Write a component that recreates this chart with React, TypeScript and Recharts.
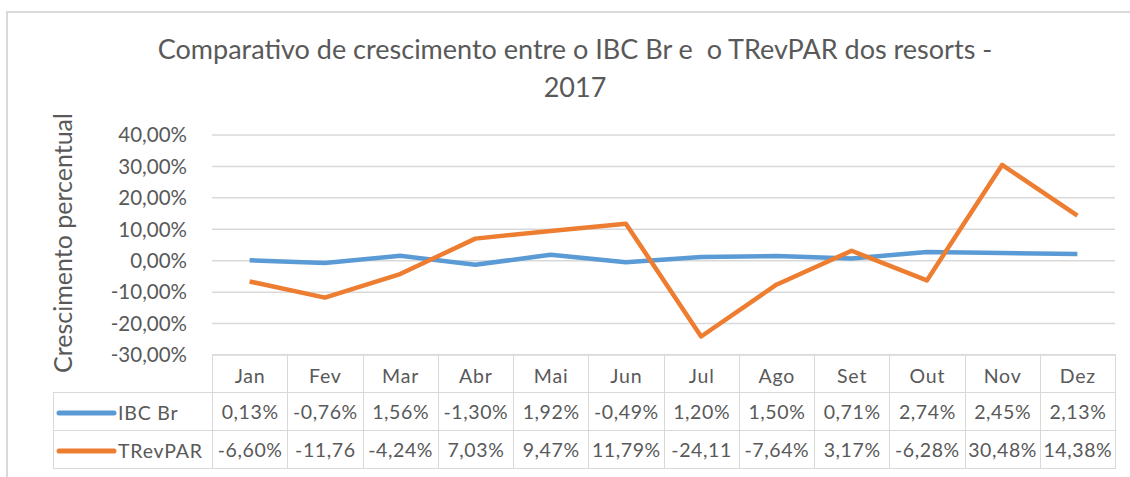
import { LineChart, Line, XAxis, YAxis, CartesianGrid } from "recharts";

const MONTHS = ["Jan", "Fev", "Mar", "Abr", "Mai", "Jun", "Jul", "Ago", "Set", "Out", "Nov", "Dez"];
const IBC_BR = [0.13, -0.76, 1.56, -1.3, 1.92, -0.49, 1.2, 1.5, 0.71, 2.74, 2.45, 2.13];
const TREVPAR = [-6.6, -11.76, -4.24, 7.03, 9.47, 11.79, -24.11, -7.64, 3.17, -6.28, 30.48, 14.38];
const Y_TICKS = [-30, -20, -10, 0, 10, 20, 30, 40];

const SERIES = [
  { key: "ibc", name: "IBC Br", values: IBC_BR, color: "#5B9BD5" },
  { key: "trevpar", name: "TRevPAR", values: TREVPAR, color: "#ED7D31" },
];

const TEXT = "#595959";
const GRID = "#D9D9D9";
const FONT = "Lato, 'Open Sans', sans-serif";

const data = MONTHS.map((m, i) => ({ month: m, ibc: IBC_BR[i], trevpar: TREVPAR[i] }));

const pct = (v: number) => `${v.toFixed(2).replace(".", ",")}%`;
// Excel clips the cells that don't fit, which drops the "%"
const cellText = (v: number) => {
  const s = pct(v);
  return s.length > 6 ? s.slice(0, -1) : s;
};

const PLOT_LEFT = 212;
const PLOT_RIGHT = 1115;
const COL_W = (PLOT_RIGHT - PLOT_LEFT) / MONTHS.length;
const LEGEND_LEFT = 53;
const LEGEND_W = PLOT_LEFT - LEGEND_LEFT;

const cell: React.CSSProperties = {
  border: `1.5px solid ${GRID}`,
  padding: 0,
  textAlign: "center",
  whiteSpace: "nowrap",
  overflow: "hidden",
};

export default function App() {
  return (
    <div
      style={{
        position: "absolute",
        left: 0,
        top: 0,
        width: 1130,
        height: 477,
        background: "#fff",
        fontFamily: FONT,
        color: TEXT,
        overflow: "hidden",
      }}
    >
      {/* chart frame */}
      <div
        style={{
          position: "absolute",
          left: 6,
          top: 11,
          width: 1140,
          height: 480,
          borderTop: `2px solid ${GRID}`,
          borderLeft: `2px solid ${GRID}`,
        }}
      />
      <div
        style={{
          position: "absolute",
          left: 0,
          width: 1150,
          top: 30,
          textAlign: "center",
          fontSize: 27,
          lineHeight: "38px",
        }}
      >
        Comparativo de crescimento entre o IBC Br e&nbsp; o TRevPAR dos resorts -
        <br />
        2017
      </div>
      <div
        style={{
          position: "absolute",
          left: 62,
          top: 243,
          transform: "translate(-50%, -50%) rotate(-90deg)",
          fontSize: 25,
          whiteSpace: "nowrap",
        }}
      >
        Crescimento percentual
      </div>

      <div style={{ position: "absolute", left: 0, top: 0 }}>
        <LineChart
          width={1130}
          height={477}
          data={data}
          margin={{ top: 135, right: 1130 - PLOT_RIGHT, bottom: 477 - 355, left: PLOT_LEFT - 100 }}
        >
          <CartesianGrid vertical={false} stroke={GRID} strokeWidth={1.5} />
          <XAxis dataKey="month" hide padding={{ left: COL_W / 2, right: COL_W / 2 }} />
          <YAxis
            width={100}
            domain={[-30, 40]}
            ticks={Y_TICKS}
            interval={0}
            axisLine={false}
            tickLine={false}
            tickSize={0}
            tickMargin={25}
            tickFormatter={(v: number) => pct(v)}
            tick={{ fill: TEXT, fontSize: 20.5, fontFamily: FONT }}
          />
          {SERIES.map((s) => (
            <Line
              key={s.key}
              dataKey={s.key}
              name={s.name}
              type="linear"
              stroke={s.color}
              strokeWidth={4.5}
              strokeLinejoin="round"
              dot={false}
              activeDot={false}
              isAnimationActive={false}
            />
          ))}
        </LineChart>
      </div>

      <table
        style={{
          position: "absolute",
          left: LEGEND_LEFT,
          top: 354,
          width: PLOT_RIGHT - LEGEND_LEFT,
          borderCollapse: "collapse",
          tableLayout: "fixed",
          fontSize: 19.5,
          color: TEXT,
          fontFamily: FONT,
        }}
      >
        <colgroup>
          <col style={{ width: LEGEND_W }} />
          {MONTHS.map((m) => (
            <col key={m} style={{ width: COL_W }} />
          ))}
        </colgroup>
        <tbody>
          <tr style={{ height: 38 }}>
            <td style={{ padding: 0, border: "none", borderRight: `1.5px solid ${GRID}` }} />
            {MONTHS.map((m) => (
              <td key={m} style={{ ...cell, paddingTop: 3, letterSpacing: 0.8 }}>
                {m}
              </td>
            ))}
          </tr>
          {SERIES.map((s) => (
            <tr key={s.key} style={{ height: 38 }}>
              <td style={{ ...cell, textAlign: "left" }}>
                <span style={{ display: "inline-flex", alignItems: "center" }}>
                  <svg width={62} height={10} style={{ marginLeft: 2 }}>
                    <line x1={3} y1={5} x2={58} y2={5} stroke={s.color} strokeWidth={5} strokeLinecap="round" />
                  </svg>
                  <span style={{ letterSpacing: 0.8 }}>{s.name}</span>
                </span>
              </td>
              {s.values.map((v, i) => (
                <td key={i} style={{ ...cell, letterSpacing: 0.6 }}>
                  {cellText(v)}
                </td>
              ))}
            </tr>
          ))}
        </tbody>
      </table>
    </div>
  );
}
